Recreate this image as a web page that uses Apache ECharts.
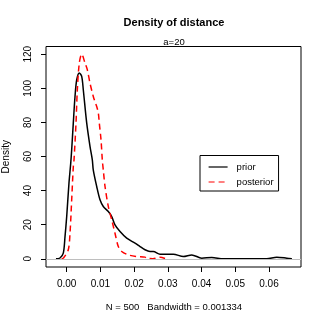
<!DOCTYPE html>
<html><head><meta charset="utf-8">
<script src="https://cdn.jsdelivr.net/npm/echarts@6/dist/echarts.min.js"></script>
<style>html,body{margin:0;padding:0;background:#fff}#c{width:325px;height:325px}</style>
</head><body><div id="c"></div>
<script>
const priorX = [-0.00318,-0.00199,-0.00101,-0.0005,0,0.00068,0.00119,0.00148,0.00196,0.00246,0.00297,0.00374,0.00445,0.00493,0.00593,0.00691,0.0076,0.00789,0.0089,0.00988,0.01086,0.01234,0.01335,0.01433,0.01582,0.0178,0.02027,0.02175,0.02323,0.02472,0.0257,0.02769,0.03163,0.0346,0.0371,0.04006,0.04303,0.04647,0.05935,0.06231,0.06528,0.0668];
const priorY = [0,0.5,3.3,13,24.8,44.6,56,64,79.7,95,105,109,107,99,79.7,66,58,52,42.4,34.6,30.7,27.7,24.8,19.9,16,12.1,9.2,7.2,5.3,4.3,4.3,2.75,2.75,1.35,2.3,0.4,0.8,0,0,1.0,0.4,0];
const postX = [-0.0015,-0.001,0.00047,0.00098,0.00148,0.00196,0.00217,0.00276,0.00315,0.00374,0.00445,0.00543,0.00611,0.00691,0.00789,0.0084,0.0089,0.00938,0.00967,0.01018,0.01056,0.01086,0.01137,0.01234,0.01335,0.01433,0.01531,0.01632,0.01828,0.02077,0.02323,0.02374,0.0256,0.02769,0.02917];
const postY = [0,0.4,5.3,15,34.6,54,58,79.6,99,114.8,120,114.8,110.9,103,95.2,92,89.3,85.5,79.6,69.8,58,52,42.4,30.7,22.9,15,7.2,4.3,2.3,1.35,1.0,0.3,0.1,1.0,0.2];
const xTicks = [0,0.01,0.02,0.03,0.04,0.05,0.06];
const xTickLabels = ['0.00','0.01','0.02','0.03','0.04','0.05','0.06'];
const yTicks = [0,20,40,60,80,100,120];

const font = 'Liberation Sans, Arial, sans-serif';
const chart = echarts.init(document.getElementById('c'), null, {renderer:'canvas'});
const zip = (a,b)=>a.map((v,i)=>[v,b[i]]);
chart.setOption({
  animation:false,
  backgroundColor:'#fff',
  title:[
    {text:'Density of distance', left:174, top:17, padding:0, textAlign:'center', textStyle:{fontFamily:font,fontSize:11,fontWeight:'bold',color:'#000'}},
    {text:'a=20', left:174, top:37, padding:0, textAlign:'center', textStyle:{fontFamily:font,fontSize:9.5,fontWeight:'normal',color:'#000'}},
    {text:'N = 500   Bandwidth = 0.001334', left:174, top:302, padding:0, textAlign:'center', textStyle:{fontFamily:font,fontSize:9.5,fontWeight:'normal',color:'#000'}}
  ],
  grid:{left:46,right:24,top:46.5,bottom:58,show:true,borderColor:'#000',borderWidth:1,backgroundColor:'transparent',containLabel:false,outerBoundsMode:'none'},
  legend:{
    orient:'vertical', left:200, top:155.5, padding:[6.5,5,4,8], itemGap:5, itemWidth:19, itemHeight:10,
    borderColor:'#000', borderWidth:1, borderRadius:0,
    itemStyle:{opacity:0},
    lineStyle:{width:1.2},
    textStyle:{fontFamily:font,fontSize:9.5,color:'#000',padding:[0,0,0,4]},
    data:['prior','posterior']
  },
  xAxis:{type:'value', min:-0.00614, max:0.0695, splitLine:{show:false}, axisLine:{show:false,onZero:false},
    axisTick:{show:true, inside:false, length:5, customValues:xTicks, lineStyle:{color:'#000'}},
    axisLabel:{customValues:xTicks, margin:12, fontFamily:font, fontSize:10, color:'#000',
      formatter:v=>{const i=xTicks.findIndex(t=>Math.abs(t-v)<1e-9);return i>=0?xTickLabels[i]:'';}}},
  yAxis:{type:'value', min:-4.79, max:124.5, splitLine:{show:false}, axisLine:{show:false,onZero:false},
    name:'Density', nameLocation:'middle', nameGap:35, nameTextStyle:{fontFamily:font,fontSize:10,color:'#000'},
    axisTick:{show:true, inside:false, length:5, customValues:yTicks, lineStyle:{color:'#000'}},
    axisLabel:{customValues:yTicks, rotate:90, margin:13, fontFamily:font, fontSize:10, color:'#000'}},
  series:[
    {name:'prior', type:'line', data:zip(priorX,priorY), showSymbol:false, symbol:'none', smooth:0.3,
     lineStyle:{color:'#000', width:1.5}, itemStyle:{color:'#000'},
     markLine:{silent:true, symbol:'none', label:{show:false}, lineStyle:{color:'#bebebe', width:1, type:'solid'}, data:[{yAxis:0}]}},
    {name:'posterior', type:'line', data:zip(postX,postY), showSymbol:false, symbol:'none', smooth:0.3,
     lineStyle:{color:'#ff0000', width:1.5, type:[6,4]}, itemStyle:{color:'#ff0000'}}
  ]
});
</script></body></html>
